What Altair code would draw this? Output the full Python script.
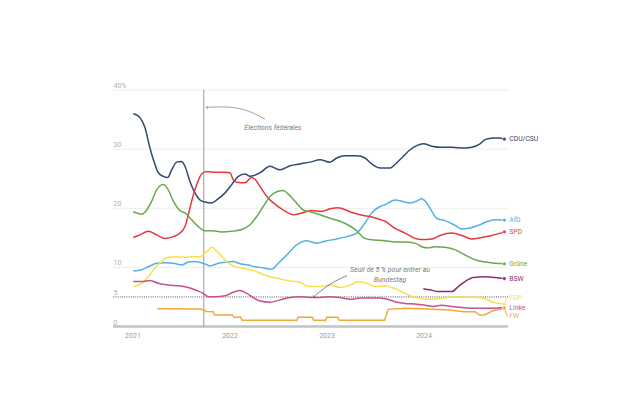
import altair as alt
import pandas as pd

# ---------------- data (decimal years, % voting intention) ----------------
parties = ["CDU/CSU", "AfD", "SPD", "Grüne", "BSW", "FDP", "Linke", "FW"]
colors = ["#34486e", "#55b0e6", "#e8383f", "#6aa84f", "#8c2f6e", "#f7e04b", "#c7508e", "#f2a93b"]

cdu_t = [2021.008, 2021.060, 2021.129, 2021.180, 2021.232, 2021.266, 2021.318, 2021.363, 2021.404, 2021.456,
         2021.507, 2021.541, 2021.593, 2021.644, 2021.696, 2021.747, 2021.816, 2021.868, 2021.954,
         2022.023, 2022.091, 2022.160, 2022.211, 2022.263, 2022.314, 2022.418, 2022.521, 2022.624, 2022.727,
         2022.830, 2022.933,
         2023.036, 2023.105, 2023.191, 2023.311, 2023.397, 2023.466, 2023.552, 2023.655, 2023.706, 2023.775,
         2023.861, 2023.930, 2023.998,
         2024.085, 2024.188, 2024.291, 2024.428, 2024.497, 2024.582, 2024.634, 2024.720, 2024.771, 2024.833]
cdu_v = [36.0, 35.6, 33.6, 30.2, 27.4, 26.0, 25.4, 25.2, 26.5, 27.8, 27.9, 27.1, 24.5, 22.6, 21.4, 21.05, 20.9, 21.4, 22.6,
         24.0, 25.4, 25.8, 25.4, 25.6, 26.0, 27.1, 26.5, 27.2, 27.5, 27.8, 28.2,
         27.8, 28.5, 28.9, 28.9, 28.5, 27.5, 26.8, 26.8, 27.4, 28.5, 29.9, 30.6, 30.9,
         30.5, 30.3, 30.3, 30.2, 30.3, 30.9, 31.6, 31.9, 31.9, 31.7]

spd_t = [2021.008, 2021.077, 2021.163, 2021.249, 2021.335, 2021.421, 2021.490, 2021.541, 2021.575, 2021.610,
         2021.662, 2021.713, 2021.765, 2021.851, 2021.954,
         2022.005, 2022.039, 2022.074, 2022.160, 2022.225, 2022.263, 2022.314, 2022.384, 2022.452, 2022.555,
         2022.658, 2022.744, 2022.847, 2022.951,
         2023.036, 2023.119, 2023.242, 2023.345, 2023.448, 2023.552, 2023.603, 2023.706, 2023.809, 2023.912, 2023.981,
         2024.085, 2024.170, 2024.291, 2024.394, 2024.497, 2024.600, 2024.703, 2024.833]
spd_v = [15.05, 15.5, 16.1, 15.5, 14.9, 15.2, 15.8, 16.9, 18.9, 21.2, 24.0, 25.8, 26.2, 26.1, 26.1,
         26.0, 24.8, 24.4, 24.3, 25.2, 24.9, 23.7, 22.0, 20.9, 19.7, 18.9, 19.2, 19.6, 19.5,
         19.9, 20.1, 19.4, 18.9, 18.6, 18.1, 17.8, 16.6, 15.8, 14.9, 14.7,
         14.8, 15.4, 15.8, 15.4, 14.8, 15.05, 15.4, 16.0]

gru_t = [2021.008, 2021.095, 2021.146, 2021.198, 2021.249, 2021.318, 2021.369, 2021.421, 2021.490, 2021.541,
         2021.610, 2021.678, 2021.747, 2021.816, 2021.920,
         2022.023, 2022.126, 2022.211, 2022.280, 2022.348, 2022.418, 2022.487, 2022.555, 2022.606, 2022.675,
         2022.761, 2022.830, 2022.933,
         2023.036, 2023.139, 2023.242, 2023.311, 2023.379, 2023.448, 2023.603, 2023.706, 2023.809, 2023.912, 2023.981,
         2024.050, 2024.119, 2024.222, 2024.325, 2024.428, 2024.531, 2024.634, 2024.737, 2024.833]
gru_v = [19.4, 19.0, 19.7, 21.2, 23.1, 24.0, 23.1, 21.2, 19.6, 19.2, 18.05, 16.9, 16.2, 16.2, 16.0,
         16.1, 16.4, 17.2, 18.6, 20.3, 22.0, 22.8, 23.0, 22.4, 21.2, 19.7, 19.4, 18.9,
         18.3, 17.8, 17.0, 16.2, 15.05, 14.7, 14.5, 14.3, 14.3, 14.1, 13.5,
         13.3, 13.5, 13.4, 13.0, 12.1, 11.3, 10.9, 10.7, 10.6]

afd_t = [2021.008, 2021.095, 2021.163, 2021.249, 2021.335, 2021.421, 2021.507, 2021.575, 2021.644, 2021.730,
         2021.799, 2021.885, 2021.971,
         2022.039, 2022.108, 2022.194, 2022.263, 2022.314, 2022.435, 2022.503, 2022.590, 2022.693, 2022.796, 2022.899,
         2023.002, 2023.105, 2023.208, 2023.311, 2023.397, 2023.466, 2023.552, 2023.603, 2023.706, 2023.775,
         2023.861, 2023.930, 2023.981,
         2024.033, 2024.085, 2024.136, 2024.222, 2024.325, 2024.394, 2024.462, 2024.565, 2024.668, 2024.737, 2024.833]
afd_v = [9.4, 9.6, 10.1, 10.7, 10.8, 10.7, 10.4, 10.9, 11.0, 10.7, 10.25, 10.7, 10.9,
         11.0, 10.6, 10.4, 10.1, 10.0, 9.7, 10.7, 12.1, 13.8, 14.5, 14.1,
         14.5, 14.8, 15.2, 15.8, 17.5, 19.2, 20.3, 20.6, 21.4, 21.2, 20.9, 21.2, 21.6,
         20.9, 19.5, 18.3, 17.9, 17.1, 16.5, 16.6, 17.1, 17.8, 18.05, 18.0]

fdp_t = [2021.008, 2021.095, 2021.163, 2021.232, 2021.301, 2021.369, 2021.456, 2021.541, 2021.627, 2021.696,
         2021.765, 2021.816, 2021.868, 2021.936,
         2022.005, 2022.091, 2022.177, 2022.263, 2022.314, 2022.418, 2022.521, 2022.624, 2022.727, 2022.812, 2022.933,
         2023.036, 2023.139, 2023.242, 2023.328, 2023.414, 2023.500, 2023.603, 2023.689, 2023.775, 2023.861, 2023.946,
         2024.050, 2024.153, 2024.256, 2024.394, 2024.531, 2024.634, 2024.720, 2024.789, 2024.833]
fdp_v = [6.75, 7.3, 8.4, 9.9, 11.0, 11.7, 11.8, 11.7, 11.8, 11.8, 12.7, 13.4, 12.7, 11.6,
         10.5, 10.0, 9.7, 9.4, 9.0, 8.4, 8.05, 7.7, 7.5, 6.75, 6.75,
         7.0, 6.6, 7.0, 7.6, 7.3, 6.75, 6.9, 6.5, 5.9, 5.2, 4.8,
         4.6, 4.7, 4.95, 5.0, 4.95, 4.7, 4.1, 3.9, 3.8]

lin_t = [2021.008, 2021.095, 2021.180, 2021.266, 2021.369, 2021.472, 2021.575, 2021.662, 2021.730, 2021.781,
         2021.851, 2021.954,
         2022.039, 2022.108, 2022.177, 2022.245, 2022.314, 2022.418, 2022.521, 2022.624, 2022.727, 2022.830, 2022.933,
         2023.036, 2023.139, 2023.242, 2023.345, 2023.448, 2023.552, 2023.603, 2023.706, 2023.809, 2023.912,
         2024.015, 2024.101, 2024.188, 2024.291, 2024.394, 2024.497, 2024.600, 2024.703, 2024.833]
lin_v = [7.6, 7.6, 7.8, 7.3, 7.0, 6.9, 6.6, 6.1, 5.6, 5.05, 5.05, 5.2,
         5.8, 6.1, 5.6, 4.9, 4.3, 4.1, 4.5, 4.9, 5.05, 4.9, 4.9,
         5.05, 4.9, 4.6, 4.8, 4.8, 4.8, 4.7, 4.2, 3.9, 3.8,
         3.6, 3.4, 3.6, 3.4, 3.2, 3.1, 3.1, 3.1, 3.2]

bsw_t = [2023.998, 2024.067, 2024.153, 2024.291, 2024.359, 2024.428, 2024.513, 2024.634, 2024.737, 2024.833]
bsw_v = [6.4, 6.2, 5.9, 5.9, 6.75, 7.6, 8.3, 8.4, 8.3, 8.1]

fw_t = [2021.256, 2021.700, 2021.730, 2021.760, 2021.833, 2021.845,
        2022.030, 2022.045, 2022.115, 2022.130, 2022.695, 2022.705, 2022.855, 2022.868, 2022.990,
        2023.002, 2023.115, 2023.130, 2023.600, 2023.627, 2023.637, 2023.809,
        2024.101, 2024.273, 2024.410, 2024.531, 2024.582, 2024.634, 2024.720, 2024.789, 2024.833]
fw_v = [3.0, 2.95, 2.8, 2.55, 2.5, 1.95,
        1.95, 1.55, 1.55, 1.05, 1.05, 1.55, 1.55, 1.05, 1.05,
        1.55, 1.55, 1.05, 1.05, 2.5, 2.9, 3.1,
        2.9, 2.8, 2.5, 2.5, 1.9, 2.0, 2.7, 2.9, 3.1]

series = {
    "CDU/CSU": (cdu_t, cdu_v), "AfD": (afd_t, afd_v), "SPD": (spd_t, spd_v), "Grüne": (gru_t, gru_v),
    "BSW": (bsw_t, bsw_v), "FDP": (fdp_t, fdp_v), "Linke": (lin_t, lin_v), "FW": (fw_t, fw_v),
}
# vertical position of the end labels (value units)
label_v = [31.7, 18.0, 16.0, 10.6, 8.1, 4.9, 3.2, 1.7]

y_ticks = [0, 5, 10, 20, 30, 40]
grid_values = [10, 20, 30, 40]
x_ticks = [2021, 2022, 2023, 2024]
threshold = [5]
election_t = [2021.735]

note1_text = ["Élections fédérales"]
note1_t = [2022.448]
note1_v = [33.6]
arrow1_t = [2022.366, 2022.108, 2021.760]
arrow1_v = [35.1, 37.3, 37.06]

note2_text = ["Seuil de 5 % pour entrer au\nBundestag"]
note2_t = [2023.655]
note2_v = [9.6]
arrow2_t = [2023.211, 2023.036, 2022.881, 2022.866]
arrow2_v = [8.6, 7.3, 5.24, 4.9]

# ---------------- tables ----------------
rows = []
for p in parties:
    ts, vs = series[p]
    for t, v in zip(ts, vs):
        rows.append({"party": p, "t": t, "v": v})
lines_df = pd.DataFrame(rows)
smooth_df = lines_df[lines_df["party"] != "FW"]
step_df = lines_df[lines_df["party"] == "FW"]

ends = []
for p, lv in zip(parties, label_v):
    ts, vs = series[p]
    ends.append({"party": p, "t": ts[-1], "v": vs[-1], "lv": lv, "t2": ts[-1] + 0.03})
ends_df = pd.DataFrame(ends)
leaders_df = ends_df[ends_df["party"].isin(["FDP", "FW"])]

# ---------------- scales / axes ----------------
FONT = "Roboto"
xs = alt.Scale(domain=[2020.799, 2024.871], nice=False, zero=False)
ys = alt.Scale(domain=[0, 40], nice=False, zero=False)
cs = alt.Scale(domain=parties, range=colors)

xaxis = alt.Axis(values=x_ticks, format="d", title=None, grid=False, ticks=False, tickSize=0, domain=False,
                 labelPadding=5, labelFlush=False, labelColor="#9a9a9a", labelFontSize=7, labelFont=FONT)
yaxis = alt.Axis(values=y_ticks, labelExpr="datum.value == 40 ? '40%' : datum.label", title=None, grid=False,
                 ticks=False, tickSize=0, domain=False, labelAlign="left", labelBaseline="bottom",
                 labelPadding=0, labelOffset=-1.5, labelColor="#b0b0b0", labelFontSize=7, labelFont=FONT,
                 labelOverlap=False)


def X(field="t"):
    return alt.X(field, type="quantitative", scale=xs, axis=xaxis)


def Y(field="v"):
    return alt.Y(field, type="quantitative", scale=ys, axis=yaxis)


grid = alt.Chart(pd.DataFrame({"v": grid_values})).mark_rule(color="#ececec", strokeWidth=1).encode(y=Y())
base0 = alt.Chart(pd.DataFrame({"v": [0]})).mark_rule(color="#c2c2c2", strokeWidth=2.5).encode(y=Y())
thr = alt.Chart(pd.DataFrame({"v": threshold})).mark_rule(
    color="#555555", strokeWidth=1, strokeDash=[1, 1.2]).encode(y=Y())
elect = alt.Chart(pd.DataFrame({"t": election_t})).mark_rule(color="#9a9a9a", strokeWidth=1).encode(x=X())

lines = alt.Chart(smooth_df).mark_line(strokeWidth=1.5, interpolate="monotone").encode(
    x=X(), y=Y(),
    color=alt.Color("party:N", scale=cs, legend=None),
    detail="party:N",
    order=alt.Order("t:Q"),
)
fw_line = alt.Chart(step_df).mark_line(strokeWidth=1.5).encode(
    x=X(), y=Y(),
    color=alt.Color("party:N", scale=cs, legend=None),
    order=alt.Order("t:Q"),
)

leaders = alt.Chart(leaders_df).mark_rule(strokeWidth=1).encode(
    x=X(), x2="t2:Q", y=Y(), y2="lv:Q", color=alt.Color("party:N", scale=cs, legend=None))

dots = alt.Chart(ends_df).mark_circle(size=14, opacity=1, stroke="white", strokeWidth=0.6).encode(
    x=X(), y=Y(), color=alt.Color("party:N", scale=cs, legend=None))

labels = alt.Chart(ends_df).mark_text(align="left", baseline="middle", dx=5, fontSize=6.8, font=FONT).encode(
    x=X(), y=Y("lv"), text="party:N", color=alt.Color("party:N", scale=cs, legend=None))

note1 = alt.Chart(pd.DataFrame({"t": note1_t, "v": note1_v, "txt": note1_text})).mark_text(
    align="center", baseline="middle", fontSize=7, fontStyle="italic", font=FONT, color="#7a7a7a").encode(
    x=X(), y=Y(), text="txt:N")
arrow1 = alt.Chart(pd.DataFrame({"t": arrow1_t, "v": arrow1_v, "i": range(len(arrow1_t))})).mark_line(
    color="#8a8a8a", strokeWidth=0.8, interpolate="basis").encode(x=X(), y=Y(), order="i:Q")
head1 = alt.Chart(pd.DataFrame({"t": arrow1_t[-1:], "v": arrow1_v[-1:]})).mark_point(
    shape="M-1,-1L0,0L-1,1", size=10, filled=False, color="#8a8a8a", strokeWidth=0.8, angle=178, opacity=1).encode(
    x=X(), y=Y())

note2 = alt.Chart(pd.DataFrame({"t": note2_t, "v": note2_v, "txt": note2_text})).mark_text(
    align="center", baseline="middle", fontSize=7, fontStyle="italic", font=FONT, color="#7a7a7a",
    lineBreak="\n", lineHeight=10).encode(x=X(), y=Y(), text="txt:N")
arrow2 = alt.Chart(pd.DataFrame({"t": arrow2_t, "v": arrow2_v, "i": range(len(arrow2_t))})).mark_line(
    color="#666666", strokeWidth=0.8, interpolate="basis").encode(x=X(), y=Y(), order="i:Q")
head2 = alt.Chart(pd.DataFrame({"t": arrow2_t[-1:], "v": arrow2_v[-1:]})).mark_point(
    shape="M-1,-1L0,0L-1,1", size=10, filled=False, color="#666666", strokeWidth=0.8, angle=130, opacity=1).encode(
    x=X(), y=Y())

chart = alt.layer(
    grid, base0, thr, elect, fw_line, lines, leaders, dots, labels, note1, arrow1, head1, note2, arrow2, head2
).properties(
    width=395, height=236.5,
    padding={"left": 105, "top": 82, "right": 100, "bottom": 60},
    autosize=alt.AutoSizeParams(type="none"),
).configure_view(stroke=None)

chart.save("out.html", embed_options={"renderer": "svg", "actions": False})
